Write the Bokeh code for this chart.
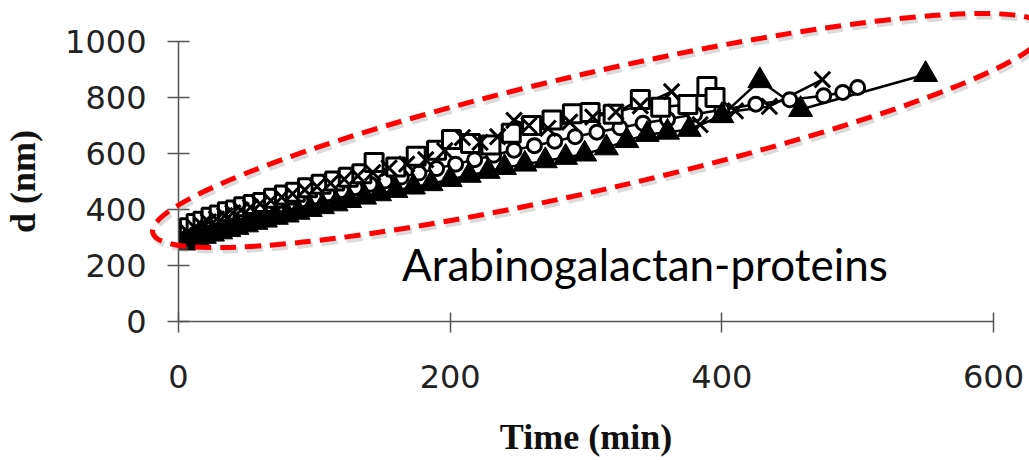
from bokeh.plotting import figure
from bokeh.models import Range1d, FixedTicker, Label
from bokeh.embed import file_html
from bokeh.resources import INLINE

# ---- data ----
sq_x = [3, 8, 13, 18, 24, 30, 36, 42, 48, 55, 62, 70, 78, 86, 95, 105, 115, 125, 135, 144, 160, 175, 190, 201, 215, 230, 245, 260, 275, 290, 303, 320, 340, 355, 375, 389, 395]
sq_y = [318, 335, 350, 358, 372, 380, 392, 398, 410, 418, 425, 440, 452, 462, 478, 490, 502, 515, 528, 568, 552, 590, 612, 650, 636, 630, 672, 700, 720, 742, 746, 740, 793, 765, 775, 839, 800]

x_x = [2, 7, 12, 17, 22, 28, 34, 40, 46, 53, 60, 68, 76, 84, 93, 102, 112, 122, 132, 143, 155, 168, 182, 196, 209, 222, 235, 247, 258, 272, 288, 305, 322, 340, 363, 384, 410, 435, 474]
x_y = [300, 318, 335, 345, 356, 366, 378, 388, 398, 408, 420, 432, 444, 456, 470, 482, 494, 508, 520, 532, 548, 562, 578, 610, 657, 640, 660, 718, 700, 690, 712, 730, 748, 770, 821, 703, 752, 768, 864]

tri_x = [4, 9, 14, 19, 25, 31, 37, 43, 50, 57, 64, 72, 80, 88, 97, 106, 116, 126, 137, 148, 160, 173, 186, 200, 214, 228, 240, 255, 270, 285, 299, 315, 330, 345, 360, 376, 400, 428, 458, 550]
tri_y = [280, 288, 296, 304, 312, 320, 328, 336, 345, 354, 362, 372, 380, 390, 400, 410, 420, 432, 444, 456, 468, 480, 492, 507, 522, 536, 550, 562, 574, 586, 598, 620, 646, 668, 676, 686, 735, 860, 757, 882]

ci_x = [1, 5, 10, 15, 20, 26, 32, 38, 44, 51, 58, 66, 74, 82, 91, 100, 110, 120, 130, 141, 152, 164, 177, 190, 204, 218, 232, 247, 262, 277, 292, 308, 325, 342, 360, 380, 400, 425, 450, 475, 489, 500]
ci_y = [300, 310, 320, 330, 340, 348, 356, 364, 372, 382, 392, 402, 412, 422, 434, 444, 456, 468, 478, 490, 502, 516, 530, 546, 562, 578, 594, 612, 628, 644, 660, 676, 692, 708, 722, 740, 756, 776, 792, 806, 818, 836]

x_ticks = [0, 200, 400, 600]
y_ticks = [0, 200, 400, 600, 800, 1000]
x_title = "Time (min)"
y_title = "d (nm)"
note = "Arabinogalactan-proteins"

p = figure(width=1029, height=460, output_backend="svg", toolbar_location=None,
           x_range=Range1d(0, 600), y_range=Range1d(0, 1000),
           min_border_left=178, min_border_right=36, min_border_top=41, min_border_bottom=139)
p.outline_line_color = None
p.xgrid.visible = False
p.ygrid.visible = False
p.background_fill_color = "white"
p.border_fill_color = "white"

for ax in (p.xaxis, p.yaxis):
    ax.axis_line_color = "#555555"
    ax.axis_line_width = 1.5
    ax.major_tick_line_color = "#555555"
    ax.major_tick_line_width = 1.5
    ax.minor_tick_line_color = None
    ax.major_label_text_font = "DejaVu Sans"
    ax.major_label_text_font_size = "32px"
    ax.major_label_text_color = "#222222"
    ax.axis_label_text_font = "Liberation Serif"
    ax.axis_label_text_font_style = "bold"
    ax.axis_label_text_font_size = "36px"
    ax.axis_label_text_color = "#111111"

p.xaxis.ticker = FixedTicker(ticks=x_ticks)
p.yaxis.ticker = FixedTicker(ticks=y_ticks)
p.xaxis.major_tick_in = 9
p.xaxis.major_tick_out = 11
p.yaxis.major_tick_in = 11
p.yaxis.major_tick_out = 11
p.yaxis.major_label_standoff = 21
p.xaxis.major_label_standoff = 32
p.xaxis.axis_label = x_title
p.yaxis.axis_label = y_title
p.xaxis.axis_label_standoff = 26
p.yaxis.axis_label_standoff = 19

series = [
    (ci_x, ci_y, "circle", "white", 14, 3),
    (sq_x, sq_y, "square", "white", 18, 3),
    (x_x, x_y, "x", "black", 22, 3),
    (tri_x, tri_y, "triangle", "black", 24, 1),
]
for xs, ys, mk, fill, size, lw in series:
    p.line(xs, ys, line_color="black", line_width=2.5)
for xs, ys, mk, fill, size, lw in series:
    p.scatter(xs, ys, marker=mk, size=size, fill_color=fill, line_color="black", line_width=lw)

# highlight ellipse (annotation drawn over the chart, not clipped)
p.ellipse(x=[311.2], y=[671], width=[916], height=[117], angle=[0.225],
          width_units="screen", height_units="screen", fill_color=None,
          line_color="#999999", line_alpha=0.35, line_width=6, line_dash="16 9", level="overlay")
p.ellipse(x=[309.7], y=[682], width=[916], height=[117], angle=[0.225],
          width_units="screen", height_units="screen", fill_color=None,
          line_color="#ff0000", line_width=5, line_dash="16 9", level="overlay")

p.add_layout(Label(x=164.6, y=203.6, text=note, text_font="Lato", text_font_size="44px",
                   text_color="black", text_baseline="alphabetic", text_align="left"))

open("out.html", "w").write(file_html(p, INLINE))
